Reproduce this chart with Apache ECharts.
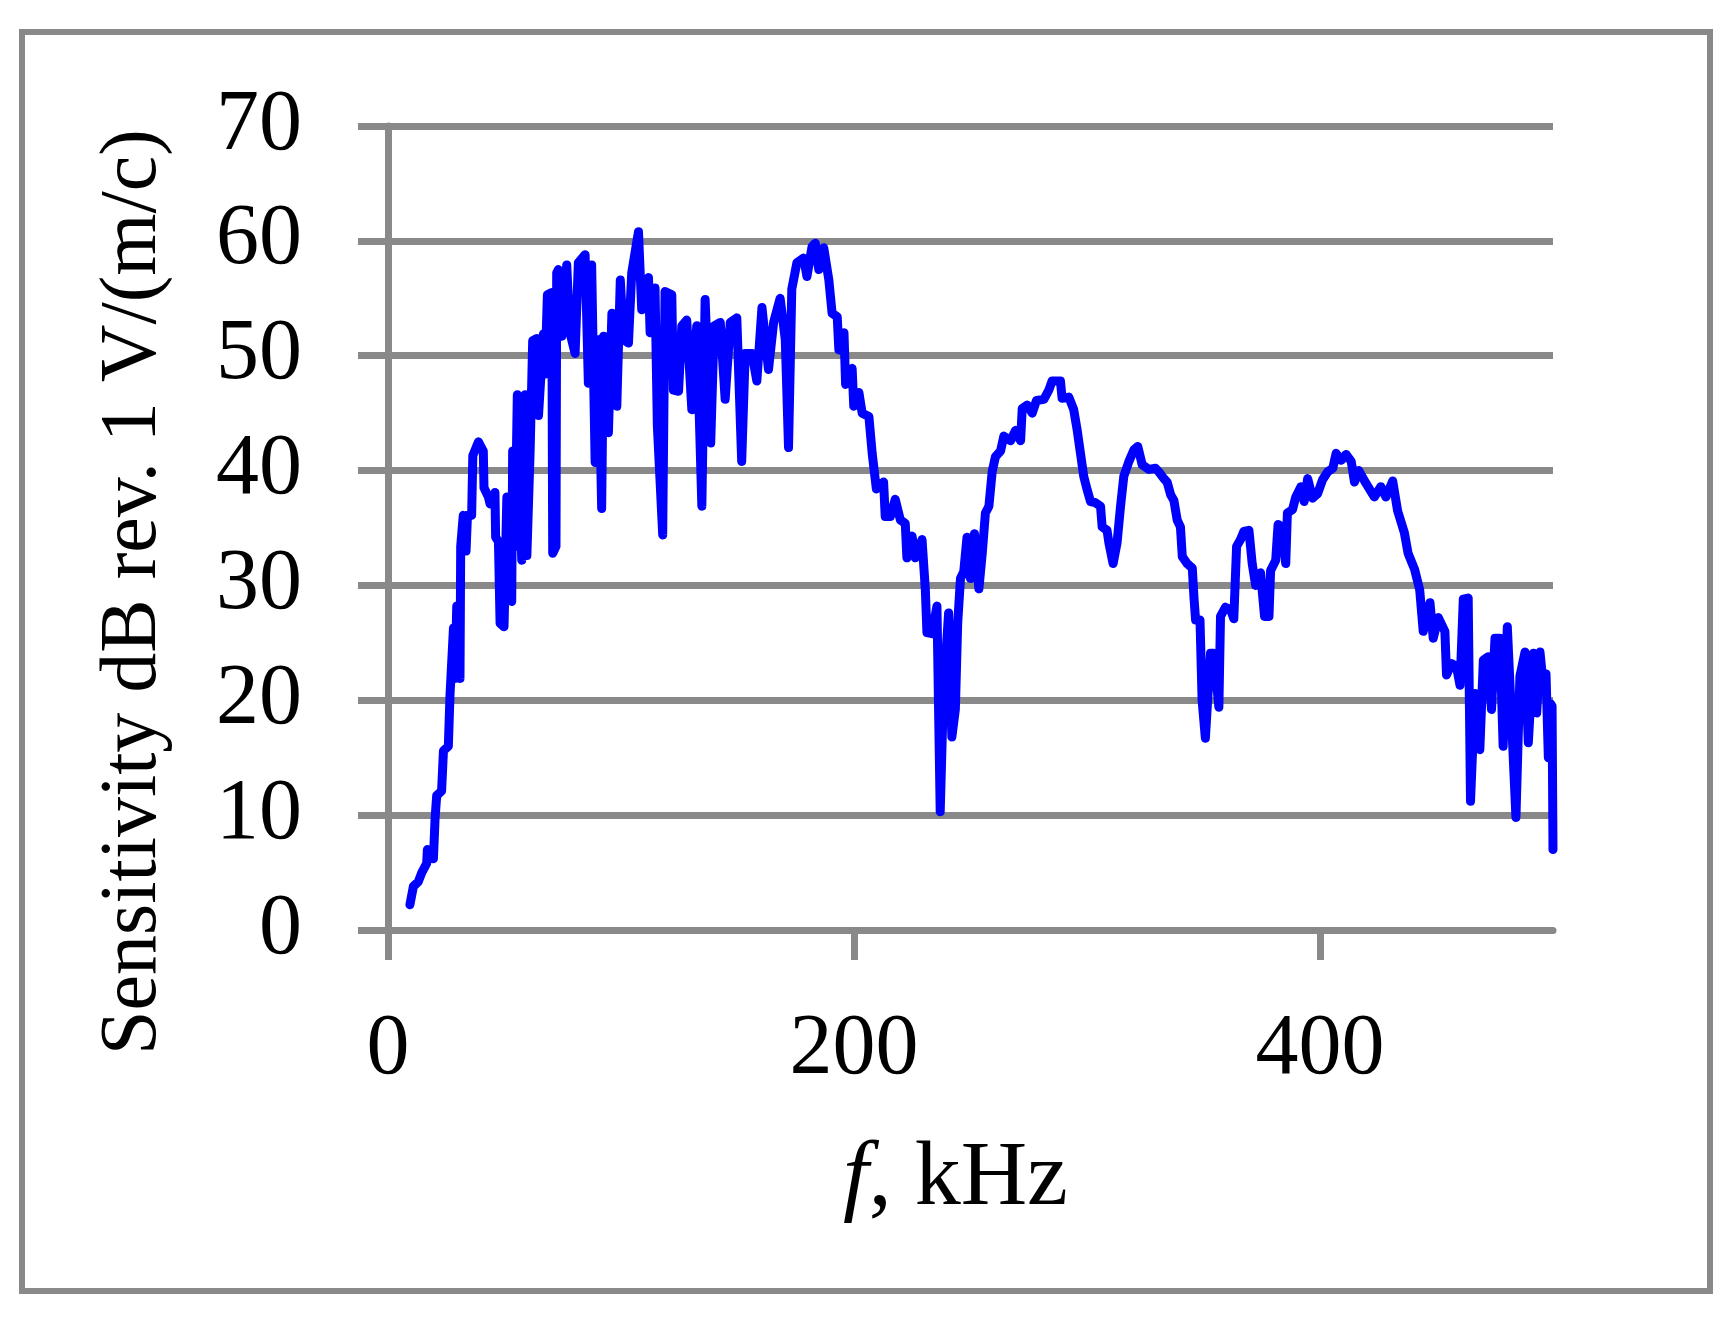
<!DOCTYPE html>
<html>
<head>
<meta charset="utf-8">
<title>Sensitivity</title>
<script src="https://cdn.jsdelivr.net/npm/echarts@6/dist/echarts.min.js"></script>
<style>
  html, body {
    margin: 0;
    padding: 0;
    background: #fff;
  }
  #chart {
    width: 1732px;
    height: 1318px;
  }
</style>
</head>
<body>
<div id="chart"></div>
<script>
// frequency, kHz
let freqKHz = [
  9.4, 10.9, 13.0, 14.5, 16.6, 16.9, 19.5, 20.2, 20.9, 23.0,
  23.8, 25.9, 26.6, 28.1, 28.8, 29.5, 30.9, 31.2, 32.3, 33.5,
  34.1, 35.9, 36.4, 38.8, 40.9, 41.2, 43.1, 43.8, 45.9, 46.2,
  47.4, 48.1, 49.8, 51.0, 51.7, 53.1, 53.5, 54.5, 55.5, 57.4,
  58.8, 59.6, 61.0, 62.1, 63.9, 64.6, 65.9, 66.7, 67.4, 68.4,
  70.3, 70.7, 72.1, 72.4, 73.1, 74.6, 76.7, 78.1, 80.3, 81.7,
  84.6, 86.0, 87.4, 88.9, 90.3, 91.7, 92.5, 94.6, 96.1, 98.2,
  99.7, 101.1, 103.2, 104.6, 107.5, 108.9, 111.8, 112.5, 114.6, 115.6,
  117.9, 118.9, 121.8, 122.5, 124.7, 126.1, 128.2, 130.4, 132.5, 134.7,
  136.1, 138.5, 140.0, 142.6, 144.7, 146.9, 149.7, 151.8, 153.3, 156.2,
  158.3, 160.5, 163.3, 165.5, 168.3, 170.5, 171.9, 173.3, 175.5, 178.4,
  179.8, 182.0, 183.4, 184.9, 187.0, 189.2, 190.6, 192.8, 193.5, 195.7,
  196.4, 199.2, 199.9, 202.1, 203.5, 206.4, 207.8, 209.6, 212.7, 213.4,
  215.6, 217.7, 219.9, 222.0, 222.7, 224.9, 226.3, 229.2, 230.6, 231.3,
  233.5, 235.6, 237.0, 238.4, 240.6, 242.0, 243.5, 244.5, 245.7, 247.1,
  248.5, 250.0, 251.7, 253.6, 255.0, 256.4, 257.9, 259.3, 260.7, 262.9,
  264.3, 267.2, 269.3, 271.5, 272.2, 274.4, 276.5, 278.3, 281.5, 283.6,
  285.0, 288.6, 289.3, 292.2, 294.3, 295.8, 297.2, 298.6, 300.1, 301.5,
  303.6, 305.8, 306.5, 308.6, 309.4, 311.2, 312.9, 314.4, 315.8, 318.0,
  320.1, 321.8, 323.7, 326.6, 329.4, 330.8, 333.0, 334.4, 335.9, 337.3,
  338.7, 340.1, 340.9, 343.0, 345.2, 345.9, 346.6, 348.5, 349.4, 350.8,
  353.0, 354.4, 356.6, 357.3, 359.4, 361.6, 363.0, 364.2, 365.9, 367.3,
  369.5, 370.9, 372.4, 374.5, 376.2, 378.1, 378.8, 381.0, 382.0, 383.8,
  385.3, 386.0, 388.2, 389.6, 391.8, 393.2, 394.7, 396.8, 399.0, 401.1,
  403.3, 405.5, 406.9, 409.1, 411.2, 413.4, 414.8, 416.6, 419.7, 423.3,
  426.1, 428.3, 431.2, 433.3, 436.2, 437.8, 440.6, 442.8, 444.3, 447.2,
  448.6, 450.8, 453.6, 454.3, 456.5, 458.6, 460.1, 461.5, 463.6, 464.6,
  466.5, 468.6, 470.1, 472.2, 473.6, 475.1, 477.2, 478.6, 480.4, 481.5,
  484.1, 485.8, 488.0, 489.4, 491.6, 493.0, 494.4, 495.9, 497.0, 498.0,
  499.0, 499.6, 500.0
]

// sensitivity, dB re 1 V/(m/c)
let sensDb = [
  2.2, 3.8, 4.2, 5.0, 5.8, 7.0, 6.2, 9.7, 11.7, 12.1,
  15.6, 16.0, 20.4, 26.3, 21.9, 28.2, 21.9, 33.4, 36.1, 33.0,
  36.1, 36.1, 41.3, 42.5, 41.7, 38.5, 37.7, 37.1, 38.1, 34.2,
  33.8, 26.7, 26.4, 37.7, 29.8, 28.6, 41.7, 33.4, 46.6, 32.2,
  46.6, 32.6, 41.7, 51.3, 51.5, 44.8, 49.2, 51.9, 48.4, 55.3,
  55.5, 32.8, 33.4, 57.2, 57.5, 51.7, 57.9, 52.0, 50.2, 58.1,
  58.8, 47.6, 57.9, 40.7, 51.4, 36.7, 51.7, 43.3, 53.7, 45.6,
  56.6, 51.4, 51.1, 57.2, 60.8, 54.0, 56.8, 52.0, 55.9, 43.9,
  34.4, 55.6, 55.3, 47.0, 46.9, 52.6, 53.1, 45.3, 52.6, 36.9,
  54.9, 42.4, 52.6, 52.9, 46.2, 52.9, 53.3, 40.8, 50.2, 50.2,
  47.8, 54.2, 48.8, 52.9, 55.0, 51.4, 42.0, 55.8, 58.1, 58.5,
  56.9, 59.5, 59.8, 57.5, 59.4, 56.6, 53.7, 53.4, 50.5, 52.0,
  47.5, 48.9, 45.6, 46.8, 45.0, 44.7, 41.5, 38.4, 39.0, 36.0,
  36.0, 37.5, 35.7, 35.4, 32.4, 34.3, 32.4, 34.0, 29.7, 25.9,
  25.8, 28.2, 10.3, 20.7, 27.6, 16.8, 19.2, 26.7, 30.6, 31.2,
  34.2, 30.6, 34.5, 29.7, 32.7, 36.3, 36.9, 39.9, 41.2, 41.7,
  43.0, 42.6, 43.5, 42.6, 45.4, 45.7, 45.0, 46.1, 46.2, 47.0,
  47.8, 47.8, 46.3, 46.4, 45.3, 43.5, 41.5, 39.5, 38.3, 37.3,
  37.2, 36.9, 35.1, 34.8, 33.7, 31.9, 33.7, 36.9, 39.5, 40.8,
  41.8, 42.1, 40.5, 40.1, 40.2, 39.9, 39.3, 39.0, 37.9, 37.4,
  35.7, 35.1, 32.5, 31.9, 31.5, 29.0, 27.0, 27.0, 20.0, 16.7,
  24.1, 24.1, 19.4, 27.3, 28.1, 27.9, 27.1, 33.4, 34.0, 34.7,
  34.8, 31.9, 30.0, 31.1, 27.3, 27.3, 31.3, 32.2, 35.3, 35.1,
  31.9, 36.3, 36.6, 37.7, 38.6, 37.3, 39.3, 37.6, 38.0, 39.2,
  39.9, 40.2, 41.5, 40.9, 41.4, 40.8, 39.0, 40.0, 38.9, 37.7,
  38.6, 37.7, 39.1, 36.5, 34.6, 32.8, 31.4, 29.6, 26.0, 28.5,
  25.4, 27.2, 26.0, 22.2, 23.2, 22.9, 21.3, 28.8, 28.9, 11.2,
  20.6, 15.7, 23.5, 23.8, 19.2, 25.4, 25.4, 16.0, 26.4, 21.5,
  9.8, 22.1, 24.2, 16.3, 24.1, 18.9, 24.2, 21.2, 22.3, 15.0,
  19.7, 19.5, 7.0
]

// axis ticks
let xTickValues = [0, 200, 400]
let yTicks = { min: 0, max: 70, step: 10 }

let gray = '#898989'
let serif = '"Liberation Serif", "DejaVu Serif", serif'

let points = freqKHz.map((f, i) => [f, sensDb[i]])

let myChart = echarts.init(document.getElementById('chart'))
let option = {
  animation: false,
  backgroundColor: '#fff',
  grid: {
    left: 388,
    right: 179,
    top: 126,
    bottom: 388,
    containLabel: false,
    outerBoundsMode: 'none'
  },
  graphic: [{
    type: 'rect',
    shape: { x: 22, y: 32, width: 1688, height: 1259 },
    style: { fill: 'none', stroke: gray, lineWidth: 6 },
    silent: true
  }],
  xAxis: {
    type: 'value',
    min: 0,
    max: 500,
    name: '{it|f}, kHz',
    nameLocation: 'middle',
    nameGap: 204,
    nameTextStyle: {
      fontFamily: serif,
      fontSize: 92,
      color: '#000',
      padding: [0, 30, 0, 0],
      rich: {
        it: { fontFamily: serif, fontSize: 92, fontStyle: 'italic', color: '#000' }
      }
    },
    axisLine: {
      show: true,
      lineStyle: { color: gray, width: 7 }
    },
    axisTick: {
      show: true,
      length: 30,
      customValues: xTickValues,
      lineStyle: { color: gray, width: 7 }
    },
    axisLabel: {
      customValues: xTickValues,
      margin: 77,
      fontFamily: serif,
      fontSize: 86,
      color: '#000'
    },
    splitLine: { show: false }
  },
  yAxis: {
    type: 'value',
    min: yTicks.min,
    max: yTicks.max,
    interval: yTicks.step,
    name: 'Sensitivity dB rev. 1 V/(m/c)',
    nameLocation: 'middle',
    nameRotate: 90,
    nameGap: 214,
    nameTextStyle: {
      fontFamily: serif,
      fontSize: 80,
      color: '#000',
      padding: [0, 128, 0, 0]
    },
    axisLine: {
      show: true,
      lineStyle: { color: gray, width: 7 }
    },
    axisTick: {
      show: true,
      length: 30,
      lineStyle: { color: gray, width: 7 }
    },
    axisLabel: {
      margin: 86,
      fontFamily: serif,
      fontSize: 86,
      color: '#000'
    },
    splitLine: {
      show: true,
      lineStyle: { color: gray, width: 7 }
    }
  },
  series: [{
    type: 'line',
    data: points,
    showSymbol: false,
    clip: false,
    lineStyle: {
      color: '#0000ff',
      width: 9,
      cap: 'round',
      join: 'round'
    }
  }]
}
myChart.setOption(option)
</script>
</body>
</html>
